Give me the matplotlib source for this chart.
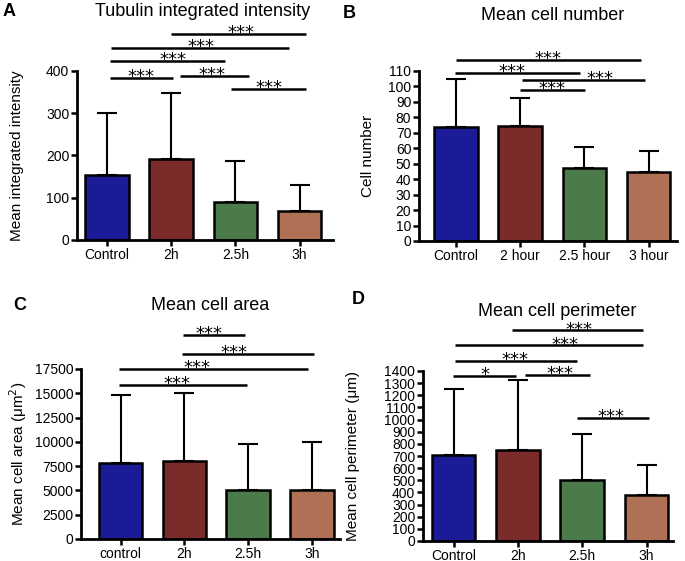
import matplotlib
matplotlib.use("Agg")
import matplotlib.pyplot as plt

plt.rcParams['font.family'] = ['Liberation Sans', 'DejaVu Sans']

W, H = 685, 561
colors = ['#1b1b98', '#7c2b2b', '#4b7b4b', '#b07055']

# panel A - tubulin integrated intensity
a_labels = ['Control', '2h', '2.5h', '3h']
a_mean = [154, 192, 89, 68]
a_sd = [146, 157, 99, 63]
a_sig = [(0, 1, 383, '***'), (1, 2, 388, '***'), (2, 3, 357, '***'),
         (0, 2, 424, '***'), (0, 3, 454, '***'), (1, 3, 488, '***')]

# panel B - mean cell number
b_labels = ['Control', '2 hour', '2.5 hour', '3 hour']
b_mean = [73.5, 74.5, 47, 44.5]
b_sd = [31.5, 18, 14, 13.5]
b_sig = [(1, 2, 97.5, '***'), (1, 3, 104.2, '***'),
         (0, 2, 108.5, '***'), (0, 3, 117, '***')]

# panel C - mean cell area
c_labels = ['control', '2h', '2.5h', '3h']
c_mean = [7820, 7990, 5010, 5010]
c_sd = [7030, 7040, 4740, 4940]
c_sig = [(0, 2, 15890, '***'), (0, 3, 17500, '***'),
         (1, 3, 19080, '***'), (1, 2, 20970, '***')]

# panel D - mean cell perimeter
d_labels = ['Control', '2h', '2.5h', '3h']
d_mean = [707, 748, 501, 375]
d_sd = [548, 581, 378, 250]
d_sig = [(0, 1, 1359, '*'), (1, 2, 1370, '***'), (2, 3, 1016, '***'),
         (0, 2, 1482, '***'), (0, 3, 1611, '***'), (1, 3, 1734, '***')]


def px_rect(l, r, t, b):
    return [l / W, 1 - b / H, (r - l) / W, (b - t) / H]


def draw_panel(fig, rect, centers_px, labels, mean, sd, sig, ymax, yticks,
               letter, letter_xy, title, title_xy, ylabel, ylabel_x,
               sig_xpx):
    ax = fig.add_axes(px_rect(*rect))
    l, r = rect[0], rect[1]
    c0 = centers_px[0]
    step = (centers_px[-1] - centers_px[0]) / 3
    x = range(len(mean))
    ax.bar(x, mean, width=0.68, color=colors, edgecolor='black',
           linewidth=1.8, zorder=2)
    ax.errorbar(x, mean, yerr=[[0] * 4, sd], fmt='none', ecolor='black',
                elinewidth=1.5, capsize=7.5, capthick=1.5, zorder=1)
    ax.set_xlim((l - c0) / step, (r - c0) / step)
    ax.set_ylim(0, ymax)
    ax.set_yticks(yticks)
    ax.set_xticks(list(x))
    ax.set_xticklabels(labels)
    for s in ['top', 'right']:
        ax.spines[s].set_visible(False)
    for s in ['left', 'bottom']:
        ax.spines[s].set_linewidth(2)
    ax.tick_params(direction='out', width=1.8, length=4, labelsize=10,
                   pad=1.5)
    # significance bars
    for (i, j, y, lab), (xs, xe, xt) in zip(sig, sig_xpx):
        x1 = (xs - c0) / step
        x2 = (xe - c0) / step
        ax.plot([x1, x2], [y, y], color='black', lw=1.8, clip_on=False,
                solid_capstyle='butt')
        ax.annotate(lab, ((xt - c0) / step, y), xytext=(0, -3),
                    textcoords='offset points', ha='center', va='baseline',
                    fontsize=13, family='DejaVu Sans', annotation_clip=False)
    fig.text(letter_xy[0] / W, 1 - letter_xy[1] / H, letter, fontsize=13,
             fontweight='bold', ha='left', va='center')
    fig.text(title_xy[0] / W, 1 - title_xy[1] / H, title, fontsize=13,
             ha='center', va='center')
    fig.text(ylabel_x / W, 1 - (rect[2] + rect[3]) / 2 / H, ylabel,
             fontsize=11, rotation=90, ha='center', va='center')
    return ax


fig = plt.figure(figsize=(6.85, 5.61), dpi=100)

draw_panel(fig, (77, 333, 71, 240), [107, 171, 235.5, 299.5], a_labels,
           a_mean, a_sd, a_sig, 400, [0, 100, 200, 300, 400],
           'A', (3, 11), 'Tubulin integrated intensity', (203, 11),
           'Mean integrated intensity', 17,
           [(110, 173, 141), (180, 249, 212), (231, 306, 269),
            (110, 225, 173), (111, 289, 201), (171, 306, 241)])

draw_panel(fig, (419, 677, 71, 241), [456, 520.5, 584.5, 648.5], b_labels,
           b_mean, b_sd, b_sig, 110, list(range(0, 111, 10)),
           'B', (343, 13), 'Mean cell number', (553, 15),
           'Cell number', 368,
           [(520, 585, 552), (522, 645, 600), (455, 580, 512),
            (456, 641, 548)])

draw_panel(fig, (81, 340, 369, 539), [120.5, 185, 248.5, 312], c_labels,
           c_mean, c_sd, c_sig, 17500, list(range(0, 17501, 2500)),
           'C', (13, 306), 'Mean cell area', (210, 305),
           'Mean cell area (μm$^2$)', 18,
           [(119, 247, 177), (119, 308, 197), (182, 314, 234),
            (183, 245, 209)])

draw_panel(fig, (423, 673, 371, 541), [453.5, 518, 582, 646.5], d_labels,
           d_mean, d_sd, d_sig, 1400, list(range(0, 1401, 100)),
           'D', (352, 299), 'Mean cell perimeter', (557, 312),
           'Mean cell perimeter (μm)', 353,
           [(453, 516, 485), (525, 590, 560), (577, 649, 611),
            (455, 577, 515), (455, 643, 565), (512, 643, 579)])

fig.savefig('out.png', dpi=100)
